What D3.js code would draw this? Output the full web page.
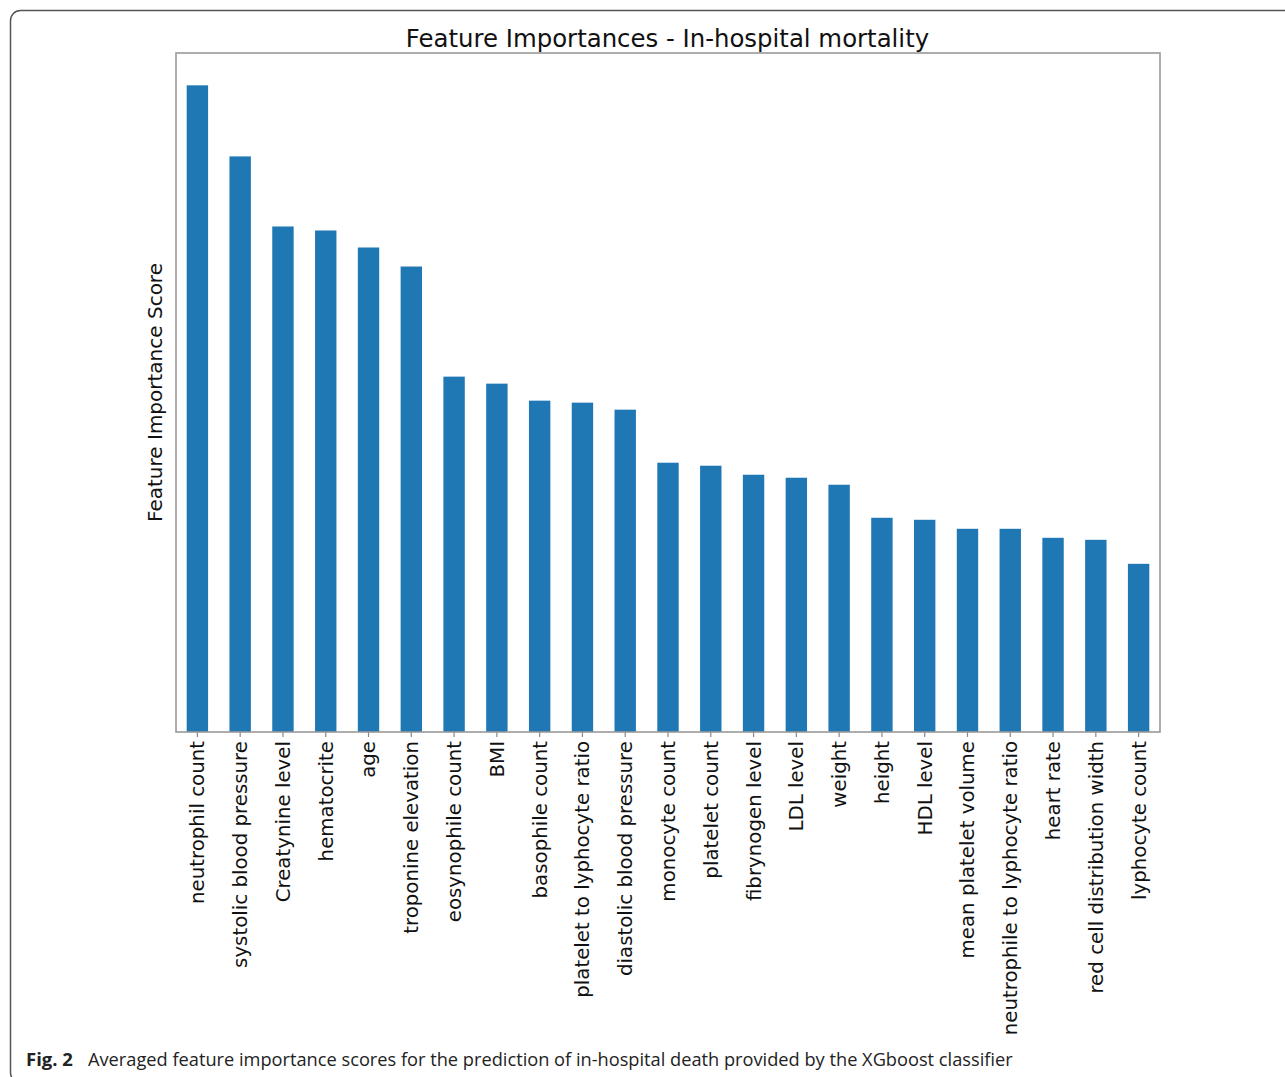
<!DOCTYPE html>
<html>
<head>
<meta charset="utf-8">
<script src="https://cdn.jsdelivr.net/npm/d3@7"></script>
<style>
  html, body { margin: 0; padding: 0; background: #fff; }
  svg { display: block; }
</style>
</head>
<body>
<svg id="chart" width="1285" height="1077"></svg>
<script>
// Features ranked by averaged XGBoost importance (in-hospital mortality)
const features = [
  "neutrophil count", "systolic blood pressure", "Creatynine level", "hematocrite",
  "age", "troponine elevation", "eosynophile count", "BMI", "basophile count",
  "platelet to lyphocyte ratio", "diastolic blood pressure", "monocyte count",
  "platelet count", "fibrynogen level", "LDL level", "weight", "height", "HDL level",
  "mean platelet volume", "neutrophile to lyphocyte ratio", "heart rate",
  "red cell distribution width", "lyphocyte count"
];
const importance = [
  0.0646, 0.0575, 0.0505, 0.0501, 0.0484, 0.0465, 0.0355, 0.0348, 0.0331,
  0.0329, 0.0322, 0.0269, 0.0266, 0.0257, 0.0254, 0.0247, 0.0214, 0.0212,
  0.0203, 0.0203, 0.0194, 0.0192, 0.0168
];

const chartTitle = "Feature Importances - In-hospital mortality";
const yLabel = "Feature Importance Score";
const captionLead = "Fig. 2";
const captionText = "Averaged feature importance scores for the prediction of in-hospital death provided by the XGboost classifier";

const svg = d3.select("#chart");

// figure frame (rounded panel)
svg.append("rect")
  .attr("x", 10.5).attr("y", 10.5)
  .attr("width", 1300).attr("height", 1072)
  .attr("rx", 10).attr("ry", 10)
  .attr("fill", "none")
  .attr("stroke", "#555")
  .attr("stroke-width", 1.5);

const plot = { left: 176, right: 1160, top: 53, bottom: 732 };

const x = d3.scaleBand()
  .domain(features)
  .range([plot.left, plot.right])
  .paddingInner(0.5)
  .paddingOuter(0.25);

const y = d3.scaleLinear()
  .domain([0, d3.max(importance) * 1.05])
  .range([plot.bottom, plot.top]);

const data = features.map((f, i) => ({ f, v: importance[i] }));

// bars
svg.append("g")
  .selectAll("rect")
  .data(data)
  .join("rect")
  .attr("x", d => x(d.f))
  .attr("y", d => y(d.v))
  .attr("width", x.bandwidth())
  .attr("height", d => y(0) - y(d.v))
  .attr("fill", "#1f77b4");

// x axis with rotated category labels
const xAxis = svg.append("g")
  .attr("transform", `translate(0,${plot.bottom})`)
  .call(d3.axisBottom(x).tickSize(5).tickPadding(6).tickSizeOuter(0));
xAxis.select(".domain").remove();
xAxis.selectAll(".tick line").attr("stroke", "#888").attr("stroke-width", 1.2);
xAxis.selectAll(".tick text")
  .attr("font-family", "DejaVu Sans")
  .attr("font-size", 19.8)
  .attr("fill", "#111")
  .attr("transform", "rotate(-90)")
  .attr("text-anchor", "end")
  .attr("x", -9)
  .attr("y", 0)
  .attr("dy", "0.35em");

// axes frame
svg.append("rect")
  .attr("x", plot.left).attr("y", plot.top)
  .attr("width", plot.right - plot.left)
  .attr("height", plot.bottom - plot.top)
  .attr("fill", "none")
  .attr("stroke", "#999")
  .attr("stroke-width", 1.6);

// title
svg.append("text")
  .attr("x", (plot.left + plot.right) / 2 - 0.5)
  .attr("y", 47)
  .attr("text-anchor", "middle")
  .attr("font-family", "DejaVu Sans")
  .attr("font-size", 24.4)
  .attr("fill", "#111")
  .text(chartTitle);

// y axis label
svg.append("text")
  .attr("transform", `translate(162,${(plot.top + plot.bottom) / 2}) rotate(-90)`)
  .attr("text-anchor", "middle")
  .attr("font-family", "DejaVu Sans")
  .attr("font-size", 20)
  .attr("fill", "#111")
  .text(yLabel);

// caption: bold lead followed by body text sized to span the panel
svg.append("text")
  .attr("x", 26)
  .attr("y", 1066)
  .attr("font-family", "Open Sans")
  .attr("font-size", 18.5)
  .attr("font-weight", "bold")
  .attr("fill", "#222")
  .text(captionLead);

const capBody = svg.append("text")
  .attr("x", 88)
  .attr("y", 1066)
  .attr("font-family", "Open Sans")
  .attr("font-size", 18)
  .attr("fill", "#222")
  .text(captionText);
const bodyWidth = capBody.node().getComputedTextLength();
capBody.attr("font-size", 18 * 925 / bodyWidth);
</script>
</body>
</html>
